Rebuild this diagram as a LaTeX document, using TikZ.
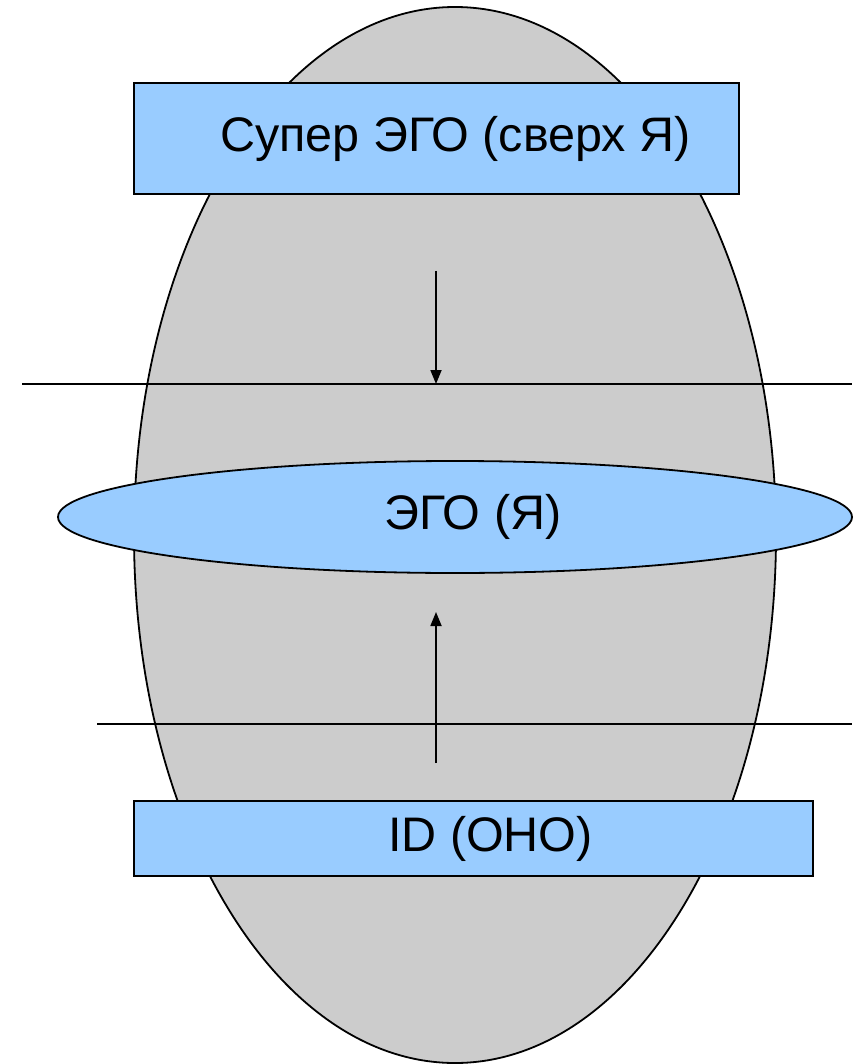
\documentclass[tikz,border=0pt]{standalone}
\usepackage{fontspec}
\setmainfont{Liberation Sans}
\usepackage{tikz}
\usetikzlibrary{positioning,shapes.geometric,arrows.meta}
\definecolor{psygray}{HTML}{CCCCCC}
\definecolor{psyblue}{HTML}{99CCFF}
\tikzset{
  layerbox/.style={draw=black, fill=psyblue, line width=1.8pt, inner sep=0pt, font=\fontsize{48.5}{58}\selectfont},
  levelline/.style={line width=1.8pt},
  pushes/.style={line width=1.8pt, -{Triangle[length=14pt,width=11pt]}}
}

\begin{document}
\begin{tikzpicture}[x=1pt, y=-1pt]
      \useasboundingbox (0, 0) rectangle (858, 1064);
      \node (psyche) [ellipse, draw, fill=psygray, line width=1.8pt,
                      minimum width=642, minimum height=1056] at (455, 535) {};
      \coordinate (upl) at (22, 384);   \coordinate (upr) at (852, 384);
      \coordinate (lowl) at (97, 724);  \coordinate (lowr) at (852, 724);
      \draw[levelline] (upl) -- (upr)
                       (lowl) -- (lowr);
      \node (superego) [layerbox, minimum width=605, minimum height=111]
            at (436.5, 138.5) {\hspace*{38pt}Супер ЭГО (сверх Я)};
      \node (ego) [layerbox, ellipse, minimum width=794, minimum height=112]
            at (455, 517) {\hspace*{36pt}ЭГО (Я)};
      \node (id) [layerbox, minimum width=679, minimum height=75]
            at (473.5, 838.5) {\hspace*{34pt}ID (OHO)};
      \coordinate (fromsuper) at (436, 271);  \coordinate (onup) at (436, 384);
      \coordinate (fromid) at (436, 763);     \coordinate (toego) at (436, 612);
      \draw[pushes] (fromsuper) -- (onup);
      \draw[pushes] (fromid) -- (toego);
\end{tikzpicture}
\end{document}
